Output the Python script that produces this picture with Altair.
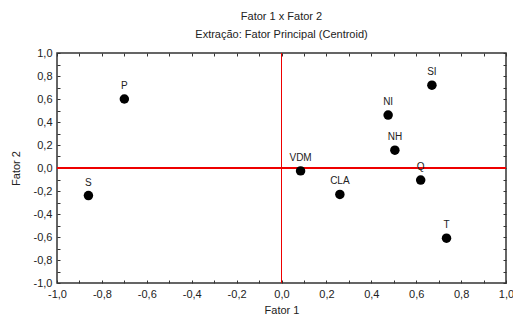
import altair as alt
import pandas as pd

names = ["P", "S", "SI", "NI", "NH", "VDM", "CLA", "Q", "T"]
fator1 = [-0.70, -0.86, 0.67, 0.475, 0.505, 0.085, 0.26, 0.62, 0.735]
fator2 = [0.60, -0.24, 0.72, 0.46, 0.155, -0.025, -0.23, -0.105, -0.61]
tick_values = [-1.0, -0.9, -0.8, -0.7, -0.6, -0.5, -0.4, -0.3, -0.2, -0.1, 0.0,
               0.1, 0.2, 0.3, 0.4, 0.5, 0.6, 0.7, 0.8, 0.9, 1.0]

df = pd.DataFrame({"name": names, "f1": fator1, "f2": fator2})

FONT = "Liberation Sans"
DOM = [-1, 1]
label_expr = ("abs(round(datum.value*10)) % 2 == 0 ? "
              "(datum.value < -0.001 ? '-' : '') + replace(format(abs(datum.value), '.1f'), '.', ',') : ''")


def sc():
    return alt.Scale(domain=DOM, nice=False, zero=False)


def main_axis(orient, title, title_pad):
    return alt.Axis(orient=orient, values=tick_values, labelExpr=label_expr, title=title,
                    domain=False, grid=False, offset=-3, tickSize=3, tickColor="#333",
                    labelPadding=5, labelFont=FONT, labelFontSize=11, labelColor="#222",
                    titleFont=FONT, titleFontSize=11, titleFontWeight="normal",
                    titleColor="#222", titlePadding=title_pad, labelFlush=False,
                    labelOverlap=False)


def frame_axis(orient):
    return alt.Axis(orient=orient, values=tick_values, labels=False, title=None,
                    domain=False, grid=False, offset=-3, tickSize=3, tickColor="#333")


base = alt.Chart(df)

hline = base.mark_rule(color="#ee0000", strokeWidth=2.2).encode(
    y=alt.Y(datum=0, scale=sc(), axis=None))
vline = base.mark_rule(color="#ee0000", strokeWidth=1).encode(
    x=alt.X(datum=0, scale=sc(), axis=None))

points = base.mark_circle(size=90, color="black", opacity=1).encode(
    x=alt.X("f1:Q", scale=sc(), axis=main_axis("bottom", "Fator 1", 5)),
    y=alt.Y("f2:Q", scale=sc(), axis=main_axis("left", "Fator 2", 12)),
)

frame = base.mark_circle(opacity=0).encode(
    x=alt.X("f1:Q", scale=sc(), axis=frame_axis("top")),
    y=alt.Y("f2:Q", scale=sc(), axis=frame_axis("right")),
)

labels = base.mark_text(dy=-13, font=FONT, fontSize=10, color="#222").encode(
    x=alt.X("f1:Q", scale=sc(), axis=None),
    y=alt.Y("f2:Q", scale=sc(), axis=None),
    text="name:N",
)

chart = alt.layer(hline, vline, points, frame, labels).resolve_scale(
    x="independent", y="independent"
).properties(
    width=449,
    height=230,
    autosize="none",
    padding={"left": 49, "top": 45, "right": 7, "bottom": 36},
    title=alt.TitleParams(
        text="Fator 1 x Fator 2",
        subtitle="Extração: Fator Principal (Centroid)",
        font=FONT, fontSize=11, fontWeight="normal", color="#222",
        subtitleFont=FONT, subtitleFontSize=11, subtitleColor="#222",
        subtitlePadding=7, offset=7, anchor="middle",
    ),
).configure_view(stroke="#333", strokeWidth=1.5)

chart.save("out.html", embed_options={"renderer": "svg", "actions": False})
